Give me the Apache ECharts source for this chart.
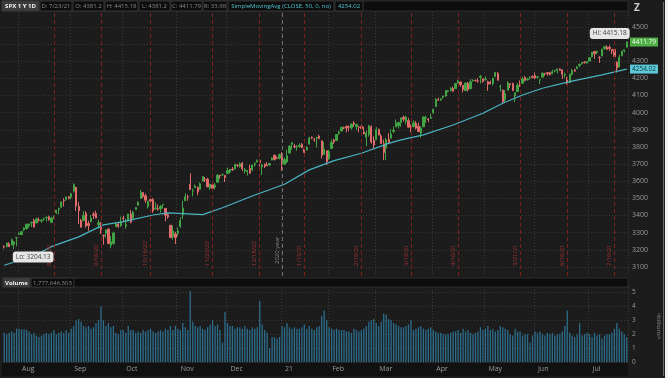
<!DOCTYPE html>
<html>
<head>
<meta charset="utf-8">
<script src="https://cdn.jsdelivr.net/npm/echarts@6/dist/echarts.min.js"></script>
<style>
html, body { margin: 0; padding: 0; background: #1c1c1c; }
#chart { width: 668px; height: 378px; }
</style>
</head>
<body>
<div id="chart"></div>
<script>
// trading days shown: 7/24/20 .. 7/23/21
const startDate = '2020-07-24';
const endDate = '2021-07-23';
const holidays = ['2020-09-07', '2020-11-26', '2020-12-25', '2021-01-01', '2021-01-18',
    '2021-02-15', '2021-04-02', '2021-05-31', '2021-07-05'];

// [open, close, low, high], one row per trading day
const ohlc = [
    [3218,3216,3207,3227],
    [3219,3239,3214,3241],[3234,3218,3216,3244],[3227,3258,3227,3265],[3232,3246,3204.13,3251],[3270,3271,3220,3272],
    [3289,3295,3288,3302],[3289,3306,3287,3306],[3317,3327,3310,3331],[3323,3349,3318,3352],[3340,3351,3328,3352],
    [3357,3360,3332,3363],[3370,3333,3329,3381],[3356,3380,3356,3387],[3373,3373,3364,3388],[3368,3373,3357,3378],
    [3380,3382,3369,3388],[3388,3389,3365,3395],[3393,3375,3369,3399],[3360,3385,3355,3391],[3386,3397,3379,3399],
    [3418,3431,3408,3433],[3436,3443,3407,3444],[3449,3479,3444,3481],[3486,3485,3453,3501],[3494,3508,3486,3510],
    [3509,3500,3494,3514],[3507,3527,3494,3528],[3543,3580,3533,3588],[3565,3455,3427,3565],[3453,3427,3349,3479],
    [3371,3332,3330,3380],[3370,3399,3367,3425],[3413,3340,3329,3425],[3353,3341,3311,3369],
    [3364,3384,3361,3403],[3407,3401,3380,3419],[3411,3385,3384,3428],[3346,3357,3323,3375],[3357,3319,3293,3362],
    [3285,3281,3230,3286],[3296,3315,3270,3320],[3321,3237,3232,3323],[3226,3247,3209,3279],[3237,3298,3229,3306],
    [3334,3351,3333,3360],[3350,3335,3327,3358],[3341,3363,3333,3393],[3385,3381,3361,3398],[3338,3348,3323,3382],
    [3367,3409,3367,3409],[3409,3361,3354,3432],[3384,3419,3384,3426],[3435,3447,3434,3447],[3459,3477,3459,3483],
    [3500,3535,3500,3550],[3534,3512,3502,3534],[3515,3489,3472,3528],[3453,3483,3441,3485],[3493,3484,3482,3515],
    [3493,3427,3416,3502],[3439,3443,3433,3477],[3439,3435,3428,3465],[3439,3453,3416,3461],[3464,3465,3441,3466],
    [3441,3401,3366,3441],[3404,3391,3381,3410],[3343,3271,3270,3343],[3277,3310,3259,3342],[3293,3270,3234,3305],
    [3296,3310,3279,3330],[3336,3370,3328,3389],[3406,3443,3380,3486],[3485,3510,3485,3529],[3509,3509,3486,3521],
    [3583,3551,3549,3646],[3544,3545,3512,3557],[3563,3572,3559,3581],[3563,3537,3519,3569],[3553,3585,3553,3593],
    [3600,3627,3600,3628],[3611,3610,3595,3624],[3612,3567,3567,3620],[3560,3582,3549,3585],[3580,3558,3556,3582],
    [3566,3577,3553,3589],[3594,3635,3594,3642],[3635,3630,3614,3635],[3638,3638,3630,3645],
    [3634,3622,3595,3634],[3645,3662,3645,3679],[3654,3669,3645,3670],[3669,3666,3661,3682],[3671,3699,3670,3699],
    [3694,3692,3682,3698],[3684,3702,3679,3709],[3705,3672,3658,3712],[3659,3668,3645,3678],[3656,3663,3633,3665],
    [3675,3647,3645,3697],[3667,3695,3659,3695],[3697,3702,3685,3711],[3713,3722,3708,3726],[3722,3709,3685,3726],
    [3684,3695,3636,3703],[3698,3687,3676,3703],[3694,3690,3689,3712],[3694,3703,3690,3703],
    [3723,3735,3723,3740],[3751,3727,3720,3756],[3736,3732,3730,3744],[3734,3756,3726,3760],
    [3764,3701,3662,3769],[3699,3726,3695,3738],[3712,3748,3705,3783],[3764,3804,3764,3811],[3815,3825,3784,3827],
    [3803,3799,3791,3818],[3801,3801,3778,3811],[3802,3810,3795,3820],[3815,3795,3794,3823],[3788,3768,3750,3788],
    [3782,3798,3780,3805],[3816,3852,3816,3860],[3857,3853,3845,3861],[3845,3841,3830,3853],
    [3851,3855,3797,3860],[3863,3849,3845,3871],[3836,3751,3732,3836],[3756,3787,3756,3830],[3778,3714,3694,3778],
    [3732,3774,3725,3784],[3791,3826,3791,3843],[3840,3830,3817,3848],[3837,3872,3836,3872],[3878,3887,3871,3894],
    [3893,3915,3892,3916],[3911,3911,3903,3919],[3920,3910,3885,3925],[3917,3916,3891,3925],[3911,3934,3901,3935],
    [3940,3933,3918,3950],[3918,3932,3899,3933],[3915,3914,3885,3921],[3921,3907,3903,3931],
    [3886,3876,3874,3917],[3857,3881,3805,3895],[3874,3925,3860,3928],[3916,3829,3819,3926],[3839,3811,3789,3862],
    [3842,3901,3842,3915],[3903,3870,3867,3906],[3863,3820,3818,3875],[3818,3768,3723,3843],[3793,3842,3724,3852],
    [3844,3821,3820,3881],[3851,3875,3851,3903],[3891,3898,3881,3918],[3916,3939,3916,3960],[3924,3943,3907,3944],
    [3943,3969,3918,3970],[3973,3962,3948,3982],[3949,3974,3932,3983],[3953,3915,3914,3969],[3913,3913,3885,3931],
    [3917,3940,3917,3955],[3938,3910,3902,3951],[3920,3889,3889,3942],[3880,3910,3854,3919],[3917,3975,3917,3978],
    [3969,3971,3940,3981],[3963,3959,3944,3968],[3967,3973,3967,3994],[4000,4020,3993,4021],
    [4035,4078,4035,4084],[4075,4074,4069,4087],[4074,4080,4069,4084],[4089,4097,4082,4098],[4097,4129,4092,4129],
    [4125,4128,4117,4131],[4130,4142,4124,4148],[4141,4125,4122,4152],[4140,4170,4140,4173],[4174,4185,4169,4191],
    [4179,4163,4151,4180],[4159,4135,4118,4160],[4128,4173,4128,4175],[4170,4135,4123,4180],[4139,4180,4139,4195],
    [4185,4187,4181,4195],[4188,4186,4182,4193],[4185,4184,4174,4201],[4206,4211,4170,4219],[4198,4181,4175,4199],
    [4192,4193,4187,4210],[4180,4165,4127,4187],[4178,4168,4166,4187],[4170,4202,4158,4203],[4210,4233,4210,4238],
    [4229,4189,4188,4237],[4151,4152,4123,4163],[4131,4063,4057,4135],[4075,4113,4062,4132],[4130,4174,4130,4184],
    [4169,4164,4143,4169],[4169,4128,4127,4175],[4098,4116,4062,4116],[4122,4160,4121,4173],[4168,4156,4150,4188],
    [4171,4197,4171,4209],[4205,4188,4182,4213],[4191,4196,4188,4203],[4201,4201,4193,4213],[4210,4204,4204,4218],
    [4216,4202,4194,4234],[4206,4208,4198,4215],[4191,4192,4167,4193],[4207,4230,4206,4234],
    [4229,4227,4215,4232],[4233,4227,4214,4237],[4232,4220,4219,4238],[4228,4239,4224,4250],[4242,4247,4234,4249],
    [4248,4255,4228,4255],[4255,4247,4243,4258],[4249,4224,4196,4252],[4220,4222,4203,4233],[4205,4166,4164,4207],
    [4174,4224,4173,4226],[4224,4246,4217,4255],[4249,4242,4240,4256],[4256,4266,4254,4272],[4274,4281,4267,4286],
    [4285,4291,4281,4296],[4294,4291,4287,4301],[4290,4298,4286,4302],[4301,4320,4301,4321],[4326,4352,4322,4355],
    [4357,4343,4314,4358],[4351,4358,4340,4361],[4321,4320,4290,4330],[4330,4370,4330,4372],
    [4373,4385,4367,4386],[4382,4369,4367,4393],[4381,4374,4360,4393],[4369,4360,4341,4369],[4368,4327,4322,4376],
    [4296,4259,4234,4297],[4266,4323,4265,4337],[4332,4359,4329,4359],[4361,4367,4351,4369],[4381.2,4411.79,4381.2,4415.18]
];

// daily volume, billions
const volume = [
    2.1,2.0,2.1,2.2,2.1,2.4, 2.4,2.35,2.35,2.3,2.2, 2.0,2.1,1.9,1.8,1.9, 2.0,2.1,2.0,2.1,2.3,
    2.0,2.1,2.2,2.1,2.3,2.1, 2.4,2.6,3.0,3.1, 2.9,2.6,2.5,2.6, 2.4,2.5,2.8,3.0,4.0,
    3.0,2.6,2.8,2.5,2.6, 2.1,2.0,2.3, 2.3,2.1,2.6,2.3,2.3, 2.1,2.2,2.1,2.3,2.2,
    2.3,2.4,2.2,2.1,2.2, 2.3,2.2,2.4,2.3, 2.6,2.3,2.6, 2.4,2.3,2.8,2.5,2.3,
    5.1,2.9, 2.6,2.5,2.6,2.4, 2.3,2.5,2.7,3.0, 2.6,2.7,2.3,1.4,3.6,
    2.8,2.6,2.6,2.4,2.5, 2.5,2.4,2.6,2.4,2.3, 2.5,2.4,2.5,4.4, 2.7,2.3,2.1,1.0, 1.8,1.8,1.7,1.8,
    2.6,2.5,2.8,2.5,2.4, 2.5,2.4,2.4,2.5,2.7, 2.4,2.6,2.4,2.3,2.5,2.6, 3.3,3.7,3.0,
    2.5,2.4,2.3,2.4,2.3, 2.3,2.3,2.2,2.2,2.1, 2.4,2.3,2.2,2.3, 2.4,2.6,2.9,3.0,3.1,
    2.8,2.6,2.9,3.5,3.4,3.1, 3.0,2.8,2.7,2.6,2.5, 2.5,2.6,2.7,3.0, 2.3,2.4,2.5,2.6,2.4,2.3,2.4,2.5,
    2.3,2.2,2.1,2.1,2.0, 2.0,2.0,2.1,2.2,2.2, 2.3,2.1,2.4,2.2,2.3, 2.1,2.0,2.1,2.2,2.5,2.3,
    2.4,2.6,2.3,2.4,2.2, 2.3,2.6,2.5,2.4,2.3, 2.0,1.9,2.4,2.2,2.2, 1.9,2.0,2.0,1.4,1.9,
    2.2,2.1,2.2,2.0,1.9, 2.1,2.0,2.1,1.9,2.0, 2.0,2.2,2.6,3.7,2.1, 1.9,1.8,2.0,2.8,1.9,
    2.0,2.1,2.0,1.8, 2.1,1.9,2.0,1.7,1.9, 2.0,2.0,2.1,2.4, 2.8,2.4,2.2,2.0,1.78
];

// SimpleMovingAvg(CLOSE, 50)
const smaDates = ['2020-07-24', '2020-08-11', '2020-08-20', '2020-09-04', '2020-09-21', '2020-10-01',
    '2020-10-19', '2020-10-27', '2020-11-16', '2020-11-27', '2020-12-15', '2021-01-05', '2021-01-20',
    '2021-02-03', '2021-02-19', '2021-03-08', '2021-03-15', '2021-03-26', '2021-04-14', '2021-04-30',
    '2021-05-12', '2021-05-24', '2021-06-04', '2021-06-21', '2021-07-09', '2021-07-23'];
const smaValues = [3110, 3165, 3218, 3275, 3345, 3364, 3403, 3415, 3405, 3445, 3514, 3582, 3666,
    3720, 3763, 3821, 3841, 3870, 3928, 3996, 4055, 4103, 4142, 4181, 4220, 4254.02];

// monthly option expiration days (red dashed lines)
const expiryDates = ['2020-08-21', '2020-09-18', '2020-10-16', '2020-11-20', '2020-12-18', '2021-01-15',
    '2021-02-19', '2021-03-19', '2021-04-16', '2021-05-21', '2021-06-18', '2021-07-16'];
const yearBreak = '2021-01-04';
const monthNames = ['21', 'Feb', 'Mar', 'Apr', 'May', 'Jun', 'Jul', 'Aug', 'Sep', 'Oct', 'Nov', 'Dec'];
const lastVolumeText = '1,777,646,503';

function tradingDays(from, to, skip) {
    const out = [];
    const d = new Date(from + 'T00:00:00Z');
    const last = new Date(to + 'T00:00:00Z');
    while (d <= last) {
        const s = d.toISOString().slice(0, 10);
        const wd = d.getUTCDay();
        if (wd !== 0 && wd !== 6 && skip.indexOf(s) < 0) out.push(s);
        d.setUTCDate(d.getUTCDate() + 1);
    }
    return out;
}

const dates = tradingDays(startDate, endDate, holidays);
const monthStart = dates.map((d, i) => i > 0 && d.slice(5, 7) !== dates[i - 1].slice(5, 7));
const shortDate = (s) => (+s.slice(5, 7)) + '/' + (+s.slice(8, 10)) + '/' + s.slice(2, 4);

let hiIdx = 0, loIdx = 0;
ohlc.forEach((r, i) => {
    if (r[3] > ohlc[hiIdx][3]) hiIdx = i;
    if (r[2] < ohlc[loIdx][2]) loIdx = i;
});
const lastBar = ohlc[ohlc.length - 1];
const lastSma = smaValues[smaValues.length - 1];

const FONT = '"Open Sans", "DejaVu Sans", sans-serif';

// header cell: box + centred text, both drawn above everything else
function cell(x, y, w, h, text, fill, color, bold) {
    return [
        { type: 'rect', z: 100, shape: { x: x, y: y, width: w, height: h }, style: { fill: fill, stroke: '#343434', lineWidth: 1 } },
        { type: 'text', z: 101, x: x + w / 2, y: y + h / 2 + 0.5, style: { text: text, fill: color, font: (bold ? 'bold ' : '') + '6px ' + FONT, align: 'center', verticalAlign: 'middle' } }
    ];
}

const chart = echarts.init(document.getElementById('chart'));
chart.clear();

let option = {
    backgroundColor: '#1c1c1c',
    animation: false,
    textStyle: { fontFamily: FONT },
    grid: [
        { left: 3, right: 40, top: 12, height: 264 },
        { left: 3, right: 40, top: 287, height: 75 }
    ],
    xAxis: [
        {
            type: 'category', gridIndex: 0, data: dates, boundaryGap: true,
            axisLine: { show: false }, axisTick: { show: false }, axisLabel: { show: false },
            splitLine: { show: true, interval: (i) => monthStart[i], lineStyle: { color: '#3a3a3a', type: [1, 2] } }
        },
        {
            type: 'category', gridIndex: 1, data: dates, boundaryGap: true,
            axisLine: { show: false }, axisTick: { show: false },
            axisLabel: {
                interval: (i) => monthStart[i],
                formatter: (v) => monthNames[+v.slice(5, 7) - 1],
                align: 'left', padding: [0, 0, 0, 3], margin: 3,
                color: '#9a9a9a', fontSize: 7
            },
            splitLine: { show: true, interval: (i) => monthStart[i], lineStyle: { color: '#3a3a3a', type: [1, 2] } }
        }
    ],
    yAxis: [
        {
            type: 'value', gridIndex: 0, position: 'right', scale: true,
            min: 3047, max: 4587, splitNumber: 15,
            axisLine: { show: false }, axisTick: { show: false },
            axisLabel: { color: '#9a9a9a', fontSize: 7, margin: 4, showMinLabel: false, showMaxLabel: false, formatter: (v) => String(v) },
            splitLine: { show: true, showMinLine: false, showMaxLine: false, lineStyle: { color: '#383838', type: [1, 2] } }
        },
        {
            type: 'value', gridIndex: 1, position: 'right',
            min: 0, max: 5.4, interval: 1,
            axisLine: { show: false }, axisTick: { show: false },
            axisLabel: { color: '#9a9a9a', fontSize: 6.5, margin: 4, showMaxLabel: false },
            splitLine: { show: true, showMaxLine: false, lineStyle: { color: '#383838', type: [1, 2] } }
        }
    ],
    series: [
        {
            name: 'SPX', type: 'candlestick', xAxisIndex: 0, yAxisIndex: 0,
            data: ohlc, barWidth: '72%',
            itemStyle: {
                color: '#41a343', color0: '#e06b6b',
                borderColor: '#41a343', borderColor0: '#e06b6b', borderWidth: 1
            },
            markLine: {
                silent: true, symbol: ['none', 'none'],
                data: expiryDates.map((d) => ({
                    xAxis: d,
                    lineStyle: { color: '#7d1f1f', type: [4, 3], width: 1 },
                    label: {
                        show: true, formatter: shortDate(d), position: 'insideStartTop',
                        color: '#a83232', fontSize: 6, distance: [10, 2]
                    }
                })).concat([
                    {
                        xAxis: yearBreak,
                        lineStyle: { color: '#6e6e6e', type: [4, 3], width: 1 },
                        label: {
                            show: true, formatter: '2020 year', position: 'insideStartTop',
                            color: '#8a8a8a', fontSize: 6, distance: [12, 2]
                        }
                    },
                    {
                        yAxis: lastBar[1],
                        lineStyle: { width: 0, color: 'rgba(0,0,0,0)' },
                        label: {
                            show: true, position: 'end', formatter: lastBar[1].toFixed(2), distance: 2,
                            color: '#f2fff0', backgroundColor: '#4fae45', padding: [1, 2], fontSize: 6.5
                        }
                    }
                ])
            },
            markPoint: {
                symbol: 'circle', symbolSize: 1, silent: true,
                itemStyle: { color: 'rgba(0,0,0,0)' },
                label: {
                    show: true, color: '#444', backgroundColor: '#e6e6e6', borderRadius: 3,
                    padding: [2, 3], fontSize: 6.5
                },
                data: [
                    { coord: [dates[hiIdx], ohlc[hiIdx][3]], label: { offset: [-17, -8], formatter: 'Hi: ' + ohlc[hiIdx][3].toFixed(2) } },
                    { coord: [dates[loIdx], ohlc[loIdx][2]], label: { offset: [19, 8], formatter: 'Lo: ' + ohlc[loIdx][2].toFixed(2) } }
                ]
            }
        },
        {
            name: 'SMA50', type: 'line', xAxisIndex: 0, yAxisIndex: 0,
            data: smaDates.map((d, i) => [d, smaValues[i]]),
            showSymbol: false, connectNulls: true,
            lineStyle: { color: '#4ab4c2', width: 1.2 },
            markLine: {
                silent: true, symbol: ['none', 'none'],
                data: [{
                    yAxis: lastSma,
                    lineStyle: { width: 0, color: 'rgba(0,0,0,0)' },
                    label: {
                        show: true, position: 'end', formatter: lastSma.toFixed(2), distance: 2,
                        color: '#123540', backgroundColor: '#5cc8d8', padding: [1, 2], fontSize: 6.5
                    }
                }]
            }
        },
        {
            name: 'Volume', type: 'bar', xAxisIndex: 1, yAxisIndex: 1,
            data: volume, barWidth: 1.3,
            itemStyle: { color: '#2c6d8c' }
        }
    ],
    graphic: [].concat(
        // top info bar
        [{ type: 'rect', z: 99, shape: { x: 2, y: 1, width: 626, height: 10 }, style: { fill: '#0c0c0c', stroke: '#2c2c2c' } }],
        cell(2, 1, 37, 10, 'SPX 1 Y 1D', '#3c3c3c', '#f0f0f0', true),
        cell(40, 1, 32, 10, 'D: ' + shortDate(endDate), '#0c0c0c', '#8a8a8a'),
        cell(73, 1, 31, 10, 'O: ' + lastBar[0], '#0c0c0c', '#8a8a8a'),
        cell(105, 1, 33, 10, 'H: ' + lastBar[3], '#0c0c0c', '#8a8a8a'),
        cell(139, 1, 31, 10, 'L: ' + lastBar[2], '#0c0c0c', '#8a8a8a'),
        cell(171, 1, 31, 10, 'C: ' + lastBar[1], '#0c0c0c', '#8a8a8a'),
        cell(203, 1, 24, 10, 'R: ' + (lastBar[3] - lastBar[2]).toFixed(2), '#0c0c0c', '#8a8a8a'),
        cell(228, 1, 106, 10, 'SimpleMovingAvg (CLOSE, 50, 0, no)', '#0c0c0c', '#4fc4d2'),
        cell(335, 1, 28, 10, lastSma.toFixed(2), '#0c0c0c', '#4fc4d2'),
        [{ type: 'text', z: 101, x: 637, y: 8, style: { text: 'Z', fill: '#cfcfcf', font: 'bold 10px ' + FONT, align: 'center', verticalAlign: 'middle' } }],
        // volume info bar
        [{ type: 'rect', z: 99, shape: { x: 2, y: 278, width: 626, height: 9 }, style: { fill: '#0c0c0c', stroke: '#2c2c2c' } }],
        cell(3, 278, 27, 9, 'Volume', '#3c3c3c', '#f0f0f0', true),
        cell(31, 278, 43, 9, lastVolumeText, '#0c0c0c', '#8a8a8a'),
        [
            { type: 'text', z: 101, x: 659, y: 326, rotation: -Math.PI / 2, style: { text: '<billions>', fill: '#8a8a8a', font: '6px ' + FONT, align: 'center', verticalAlign: 'middle' } },
            // month label strip and window edge
            { type: 'rect', z: -10, shape: { x: 2, y: 363, width: 626, height: 13 }, style: { fill: '#111111' } },
            { type: 'line', z: 100, shape: { x1: 663.5, y1: 2, x2: 663.5, y2: 376 }, style: { stroke: '#6a6a6a', lineWidth: 1 } },
            { type: 'rect', z: 100, shape: { x: 665, y: 0, width: 3, height: 378 }, style: { fill: '#f2f2f2' } }
        ]
    )
};

chart.setOption(option);
</script>
</body>
</html>
